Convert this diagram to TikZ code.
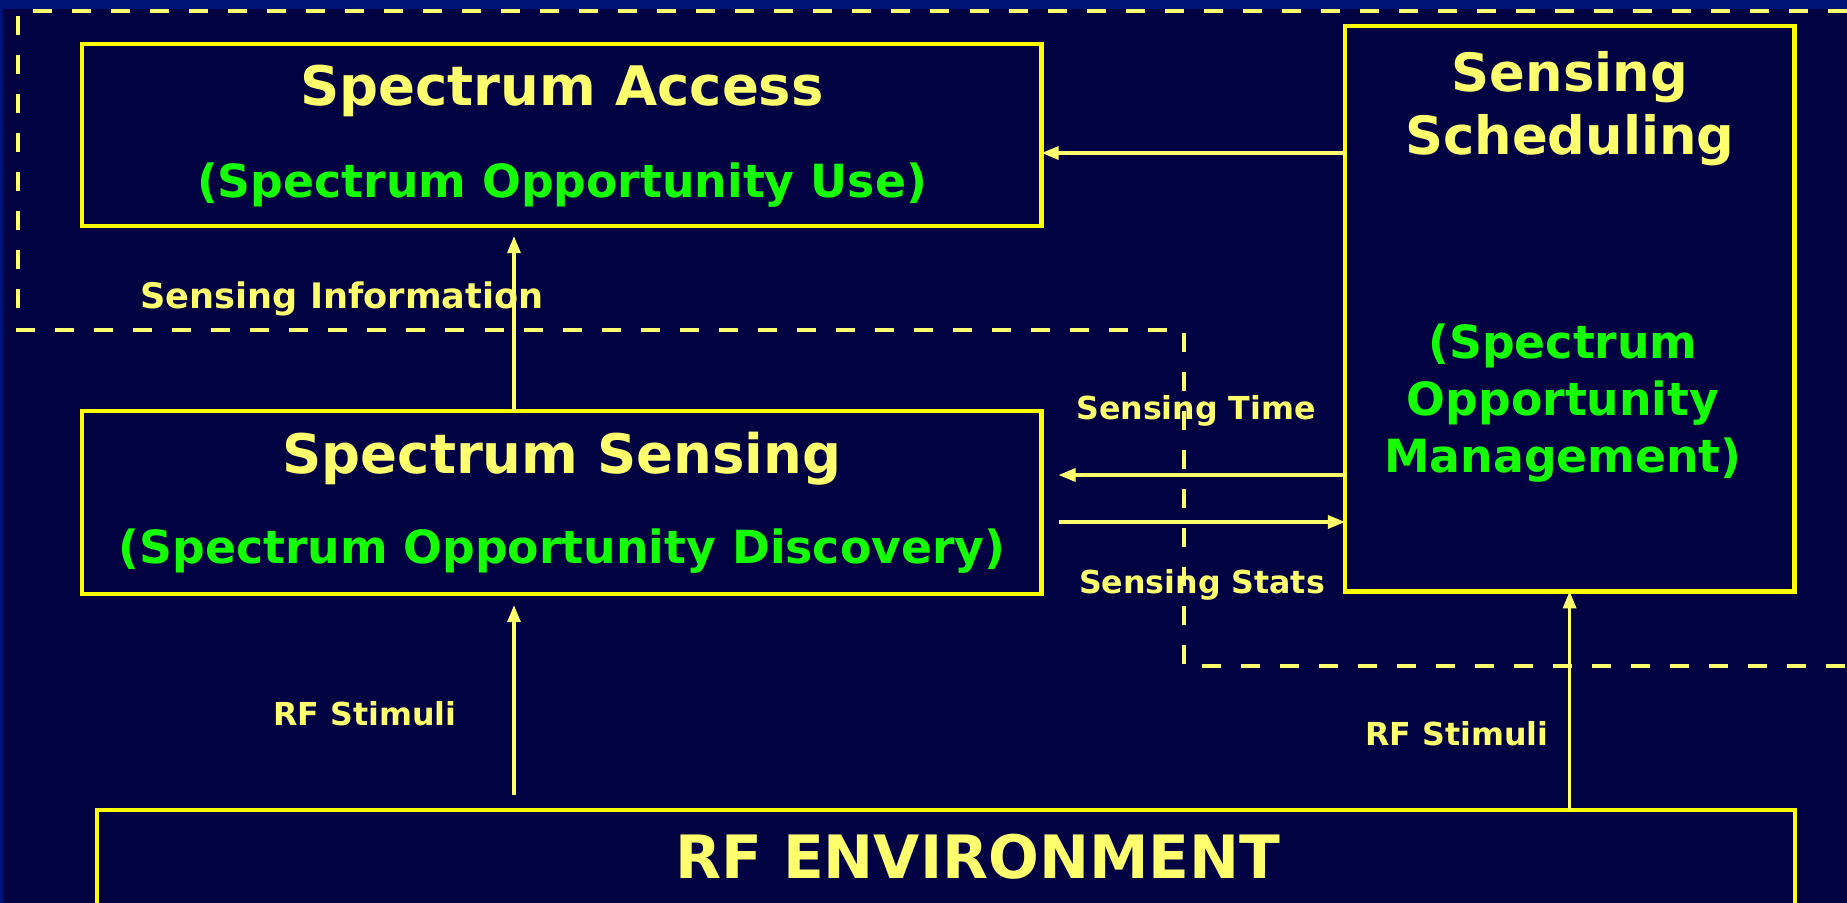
\documentclass[tikz,border=0pt]{standalone}
\usepackage{fontspec}
\setmainfont{DejaVu Sans}
\usepackage{xcolor}
\definecolor{navy}{RGB}{0,2,66}
\definecolor{band}{RGB}{0,20,120}
\definecolor{boxline}{RGB}{255,255,0}
\definecolor{pale}{RGB}{255,255,110}
\definecolor{lime}{RGB}{20,255,0}
\usepackage{tikz}
\usetikzlibrary{positioning,calc}
\usetikzlibrary{arrows.meta}
\tikzset{>={Triangle[length=0.17cm,width=0.13cm]}}

\begin{document}
\begin{tikzpicture}[x=0.01cm,y=-0.01cm,
  block/.style={draw=boxline,line width=1.3pt,anchor=north west,inner sep=0pt,outer sep=0pt},
  flow/.style={->,draw=pale,line width=0.9pt},
  region/.style={draw=pale,line width=1.2pt,dash pattern=on 0.19cm off 0.2cm},
  title/.style={text=pale,font=\bfseries\fontsize{15.5}{18}\selectfont,align=center},
  sub/.style={text=lime,font=\bfseries\fontsize{13}{16.2}\selectfont,align=center},
  tag/.style={text=pale,font=\bfseries\fontsize{9}{11}\selectfont}]
  \fill[navy] (0,0) rectangle (1847,903);
  \fill[band] (0,0) rectangle (1847,9);
  \fill[band] (0,0) rectangle (3,903);
  \useasboundingbox (0,0) rectangle (1847,903);

  % boxes
  \node[block,minimum width=9.59cm,minimum height=1.82cm] (access) at (82,44) {};
  \node[block,minimum width=4.49cm,minimum height=5.65cm] (sched) at (1345,26) {};
  \node[block,minimum width=9.59cm,minimum height=1.83cm] (sensing) at (82,411) {};
  \node[block,minimum width=16.97cm,minimum height=1.2cm] (rfenv) at (97,810) {};

  \coordinate (colA) at (514,0);
  \coordinate (rowA) at (0,153);
  \coordinate (rowT) at (0,475);
  \coordinate (rowS) at (0,522);

  % texts
  \node[title] (accesstitle) at (562,91) {Spectrum Access};
  \node[sub] (accesssub) at (562,185) {(Spectrum Opportunity Use)};
  \node[title] (sensetitle) at (562,459) {Spectrum Sensing};
  \node[sub] (sensesub) at (562,551) {(Spectrum Opportunity Discovery)};
  \node[title,font=\bfseries\fontsize{15}{18}\selectfont] (schedtitle) at (1570,109) {Sensing\\Scheduling};
  \node[sub] (schedsub) at (1563,403) {(Spectrum\\Opportunity\\Management)};
  \node[title,font=\bfseries\fontsize{17}{20}\selectfont] (rftitle) at (978,857) {RF ENVIRONMENT};
  \node[tag,font=\bfseries\fontsize{10}{12}\selectfont] (infotag) at (342,299) {Sensing Information};
  \node[tag] (timetag) at (1196,411) {Sensing Time};
  \node[tag] (statstag) at (1202,585) {Sensing Stats};
  \node[tag] (stimtagL) at (365,714) {RF Stimuli};
  \node[tag] (stimtagR) at (1457,734) {RF Stimuli};

  % dashed region
  \draw[region] (1847,11) -- (18,11) -- (18,330) -- (1184,330) -- (1184,666) -- (1847,666);

  % connectors
  \draw[flow] (sched.west |- rowA) -- (access.east |- rowA);
  \draw[flow,shorten >=0.1cm] (sensing.north -| colA) -- (access.south -| colA);
  \draw[flow,shorten >=0.17cm] (sched.west |- rowT) -- (sensing.east |- rowT);
  \draw[flow,shorten <=0.17cm] (sensing.east |- rowS) -- (sched.west |- rowS);
  \draw[flow,shorten <=0.15cm,shorten >=0.11cm] (rfenv.north -| colA) -- (sensing.south -| colA);
  \draw[flow] (rfenv.north -| sched.south) -- (sched.south);
\end{tikzpicture}
\end{document}
